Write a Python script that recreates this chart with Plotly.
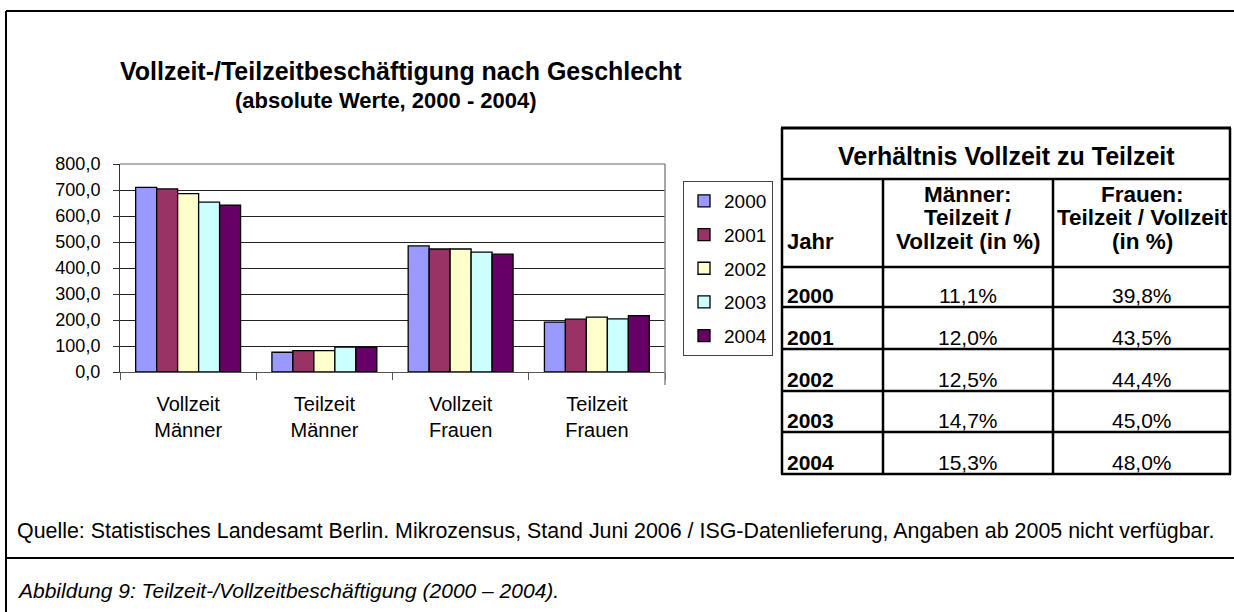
import plotly.graph_objects as go

# ---------------- data ----------------
categories = ["Vollzeit<br>Männer", "Teilzeit<br>Männer", "Vollzeit<br>Frauen", "Teilzeit<br>Frauen"]
years = ["2000", "2001", "2002", "2003", "2004"]
values = {
    "2000": [710, 76, 485, 192],
    "2001": [704, 82, 473, 203],
    "2002": [686, 82, 473, 211],
    "2003": [653, 96, 461, 204],
    "2004": [642, 96, 453, 217],
}
colors = {"2000": "#9999FF", "2001": "#993366", "2002": "#FFFFCC", "2003": "#CCFFFF", "2004": "#660066"}
y_ticks = [0, 100, 200, 300, 400, 500, 600, 700, 800]

table_title = "Verhältnis Vollzeit zu Teilzeit"
table_years = ["2000", "2001", "2002", "2003", "2004"]
ratio_men = [11.1, 12.0, 12.5, 14.7, 15.3]
ratio_women = [39.8, 43.5, 44.4, 45.0, 48.0]
header_men = ["Männer:", "Teilzeit /", "Vollzeit (in %)"]
header_women = ["Frauen:", "Teilzeit / Vollzeit", "(in %)"]

title = "Vollzeit-/Teilzeitbeschäftigung nach Geschlecht"
subtitle = "(absolute Werte, 2000 - 2004)"
source = "Quelle: Statistisches Landesamt Berlin. Mikrozensus, Stand Juni 2006 / ISG-Datenlieferung, Angaben ab 2005 nicht verfügbar."
caption = "Abbildung 9: Teilzeit-/Vollzeitbeschäftigung (2000 – 2004)."

FONT = "Liberation Sans, Arial, Helvetica, sans-serif"

# ---------------- layout geometry (page pixels) ----------------
W, H = 1234, 612
L, R, T, B = 120, 665, 164, 372   # plot area


def PX(x):
    return (x - L) / (R - L)


def PY(y):
    return (B - y) / (B - T)


fig = go.Figure()
for yr in years:
    fig.add_trace(go.Bar(
        x=categories, y=values[yr], name=yr, legendgroup=yr,
        marker=dict(color=colors[yr], line=dict(color="black", width=1.3)),
    ))

shapes = []
annotations = []

# plot area border (gray top / right)
shapes.append(dict(type="line", xref="paper", yref="paper", x0=0, x1=1, y0=1, y1=1,
                   line=dict(color="#999999", width=1.5)))
shapes.append(dict(type="line", xref="paper", yref="paper", x0=1, x1=1, y0=PY(385), y1=1,
                   line=dict(color="#888888", width=1.5)))


def hline(y, x0, x1, w=2.0, c="black"):
    shapes.append(dict(type="line", xref="paper", yref="paper", x0=PX(x0), x1=PX(x1), y0=PY(y), y1=PY(y),
                       line=dict(color=c, width=w)))


def vline(x, y0, y1, w=2.0, c="black"):
    shapes.append(dict(type="line", xref="paper", yref="paper", x0=PX(x), x1=PX(x), y0=PY(y0), y1=PY(y1),
                       line=dict(color=c, width=w)))


# outer frame
hline(11, 6, 1240, 2)
vline(6, 11, 620, 2)
hline(558, 6, 1240, 2)

# table grid
tx0, tx1 = 782, 1230
c1, c2 = 883, 1053
row_y = [128, 179, 267, 307, 349, 391, 432, 474]
for i, y in enumerate(row_y):
    hline(y, tx0 - 1, tx1 + 1, 3 if i == 0 else 2.5)
vline(tx0, 128, 474, 2.5)
vline(tx1, 128, 474, 2.5)
vline(c1, 179, 474, 2.5)
vline(c2, 179, 474, 2.5)


def text(x, y, s, size, bold=False, italic=False, xanchor="center"):
    if bold:
        s = "<b>" + s + "</b>"
    if italic:
        s = "<i>" + s + "</i>"
    annotations.append(dict(text=s, x=PX(x), y=PY(y), xref="paper", yref="paper",
                            xanchor=xanchor, yanchor="middle", showarrow=False,
                            font=dict(family=FONT, size=size, color="black")))


text((tx0 + tx1) / 2, 156, table_title, 25, bold=True)
for k, s in enumerate(header_men):
    text((c1 + c2) / 2, 194 + 23.5 * k, s, 22.5, bold=True)
for k, s in enumerate(header_women):
    text((c2 + tx1) / 2 + 1, 194 + 23.5 * k, s, 22.5, bold=True)
text(785, 241, "Jahr", 22, bold=True, xanchor="left")
for i, yr in enumerate(table_years):
    yc = row_y[i + 3] - 12
    text(785, yc, yr, 21, bold=True, xanchor="left")
    text((c1 + c2) / 2, yc, f"{ratio_men[i]:.1f}%".replace(".", ","), 21)
    text((c2 + tx1) / 2, yc, f"{ratio_women[i]:.1f}%".replace(".", ","), 21)

# titles and notes
text(401, 71, title, 25, bold=True)
text(386, 100, subtitle, 22, bold=True)
text(15, 531, source, 21.4, xanchor="left")
text(15, 590, caption, 21, italic=True, xanchor="left")

fig.update_layout(
    width=W, height=H,
    margin=dict(l=L, r=W - R, t=T, b=H - B, pad=0),
    paper_bgcolor="white", plot_bgcolor="white",
    barmode="group", bargap=0.23, bargroupgap=0,
    separators=",.",
    font=dict(family=FONT, size=18, color="black"),
    showlegend=True,
    legend=dict(x=PX(683), y=PY(181), xanchor="left", yanchor="top",
                xref="paper", yref="paper",
                bordercolor="#444444", borderwidth=1, bgcolor="white",
                font=dict(family=FONT, size=19, color="black"),
                traceorder="grouped", tracegroupgap=6, itemwidth=30),
    shapes=shapes, annotations=annotations,
    xaxis=dict(type="category", showgrid=False, showline=True, linecolor="#555555", linewidth=1,
               ticks="outside", tickson="boundaries", ticklen=7, tickcolor="#555555",
               tickfont=dict(family=FONT, size=20), ticklabelstandoff=14, fixedrange=True),
    yaxis=dict(range=[0, 800], tickvals=y_ticks, tickformat=".1f", showgrid=True,
               gridcolor="#222222", gridwidth=1, showline=True, linecolor="#333333", linewidth=1,
               ticks="outside", ticklen=6, tickcolor="#333333",
               tickfont=dict(family=FONT, size=18), ticklabelstandoff=9, zeroline=False,
               fixedrange=True),
)

# remove the browser's default 8px body margin so the figure fills the window exactly
fig.write_html("out.html",
               config={"displayModeBar": False},
               post_script="document.body.style.margin='0';document.body.style.overflow='hidden';")
